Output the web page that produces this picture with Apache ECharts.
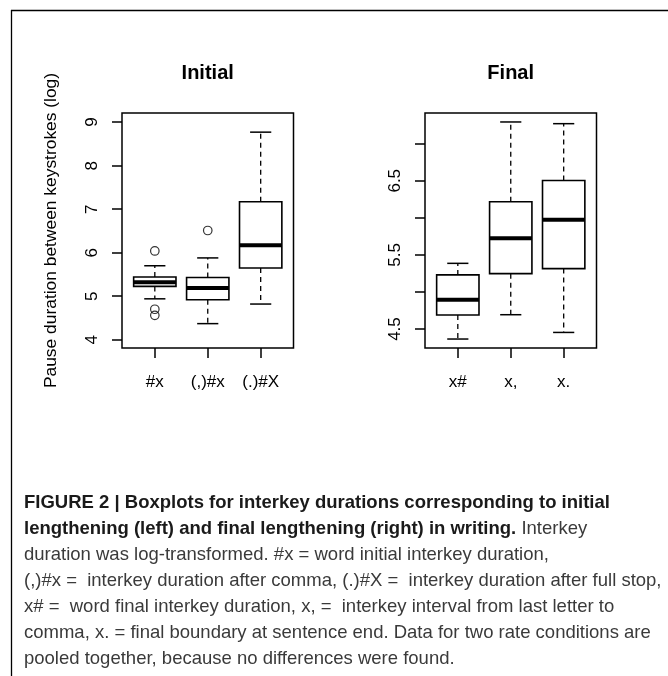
<!DOCTYPE html>
<html>
<head>
<meta charset="utf-8">
<script src="https://cdn.jsdelivr.net/npm/echarts@6/dist/echarts.min.js"></script>
<style>
html,body{margin:0;padding:0;background:#fff;}
#chart{width:668px;height:676px;}
</style>
</head>
<body>
<div id="chart"></div>
<script>
// ---- Data ----
const initialCats = ['#x', '(,)#x', '(.)#X'];
const initialLow  = [4.94, 4.37, 4.82];
const initialQ1   = [5.225, 4.92, 5.65];
const initialMed  = [5.32, 5.19, 6.17];
const initialQ3   = [5.44, 5.43, 7.17];
const initialHigh = [5.70, 5.88, 8.77];
const initialOutliers = [[1, 6.04], [1, 4.70], [1, 4.56], [2, 6.51]];

const finalCats = ['x#', 'x,', 'x.'];
const finalLow  = [4.365, 4.693, 4.454];
const finalQ1   = [4.69, 5.247, 5.315];
const finalMed  = [4.895, 5.724, 5.973];
const finalQ3   = [5.23, 6.216, 6.504];
const finalHigh = [5.386, 7.293, 7.27];

const initialTicks = [4, 5, 6, 7, 8, 9];
const initialTickLabels = [4, 5, 6, 7, 8, 9];
const finalTicks = [4.5, 5, 5.5, 6, 6.5, 7];
const finalTickLabels = [4.5, 5.5, 6.5];

const yAxisTitle = 'Pause duration between keystrokes (log)';
const panelTitles = ['Initial', 'Final'];

const captionLines = [
  '{b|FIGURE 2 | Boxplots for interkey durations corresponding to initial}',
  '{b|lengthening (left) and final lengthening (right) in writing.}{r| Interkey}',
  '{r|duration was log-transformed. #x = word initial interkey duration,}',
  '{r|(,)#x =  interkey duration after comma, (.)#X =  interkey duration after full stop,}',
  '{r|x# =  word final interkey duration, x, =  interkey interval from last letter to}',
  '{r|comma, x. = final boundary at sentence end. Data for two rate conditions are}',
  '{r|pooled together, because no differences were found.}'
];

// ---- Build ----
const FONT = '"Liberation Sans", Arial, sans-serif';
function boxData(low, q1, med, q3, high) {
  return low.map((v, i) => [i + 1, low[i], q1[i], med[i], q3[i], high[i]]);
}

function renderBox(params, api) {
  const x = api.value(0);
  const lo = api.value(1), q1 = api.value(2), md = api.value(3), q3 = api.value(4), hi = api.value(5);
  const half = 0.4, cap = 0.2;
  const pc = (v) => api.coord([x, v]);
  const cx = pc(md)[0];
  const xl = api.coord([x - half, md])[0];
  const xr = api.coord([x + half, md])[0];
  const cl = api.coord([x - cap, md])[0];
  const cr = api.coord([x + cap, md])[0];
  const yLo = pc(lo)[1], yQ1 = pc(q1)[1], yMd = pc(md)[1], yQ3 = pc(q3)[1], yHi = pc(hi)[1];
  const dash = { stroke: '#000', lineWidth: 1.3, lineDash: [5, 4] };
  const solid = { stroke: '#000', lineWidth: 1.5 };
  return {
    type: 'group',
    children: [
      { type: 'line', shape: { x1: cx, y1: yQ3, x2: cx, y2: yHi }, style: dash },
      { type: 'line', shape: { x1: cx, y1: yQ1, x2: cx, y2: yLo }, style: dash },
      { type: 'line', shape: { x1: cl, y1: yHi, x2: cr, y2: yHi }, style: solid },
      { type: 'line', shape: { x1: cl, y1: yLo, x2: cr, y2: yLo }, style: solid },
      { type: 'rect', shape: { x: xl, y: yQ3, width: xr - xl, height: yQ1 - yQ3 },
        style: { fill: '#fff', stroke: '#000', lineWidth: 1.6 } },
      { type: 'line', shape: { x1: xl, y1: yMd, x2: xr, y2: yMd }, style: { stroke: '#000', lineWidth: 4 } }
    ]
  };
}

const grids = [
  { left: 122, top: 113, width: 171.5, height: 235 },
  { left: 425, top: 113, width: 171.5, height: 235 }
];

function xAxisFor(idx, cats) {
  return {
    type: 'value', gridIndex: idx, min: 0.38, max: 3.62,
    axisLine: { show: false }, splitLine: { show: false },
    axisTick: { show: true, customValues: [1, 2, 3], length: 10, lineStyle: { color: '#000', width: 1.5 } },
    axisLabel: { customValues: [1, 2, 3], formatter: (v) => cats[Math.round(v) - 1],
      margin: 26, fontSize: 17, color: '#000', fontFamily: FONT }
  };
}
function yAxisFor(idx, min, max, ticks, labels, name) {
  const ax = {
    type: 'value', gridIndex: idx, min: min, max: max,
    axisLine: { show: false }, splitLine: { show: false },
    axisTick: { show: true, customValues: ticks, length: 10, lineStyle: { color: '#000', width: 1.5 } },
    axisLabel: { customValues: labels, rotate: 90, margin: 21, fontSize: 17, color: '#000', fontFamily: FONT,
      formatter: (v) => String(v) }
  };
  if (name) {
    ax.name = name; ax.nameLocation = 'middle'; ax.nameGap = 62;
    ax.nameTextStyle = { fontSize: 17.4, color: '#000', fontFamily: FONT };
  }
  return ax;
}

const chart = echarts.init(document.getElementById('chart'), null, { renderer: 'canvas' });
chart.setOption({
  backgroundColor: '#fff',
  animation: false,
  title: [
    { text: panelTitles[0], left: 207.7, top: 63, textAlign: 'center', padding: 0,
      textStyle: { fontSize: 20, fontWeight: 'bold', color: '#000', fontFamily: FONT } },
    { text: panelTitles[1], left: 510.7, top: 63, textAlign: 'center', padding: 0,
      textStyle: { fontSize: 20, fontWeight: 'bold', color: '#000', fontFamily: FONT } }
  ],
  grid: grids.map(g => Object.assign({ show: true, borderColor: '#000', borderWidth: 1.5, backgroundColor: 'transparent' }, g)),
  xAxis: [xAxisFor(0, initialCats), xAxisFor(1, finalCats)],
  yAxis: [
    yAxisFor(0, 3.81, 9.21, initialTicks, initialTickLabels, yAxisTitle),
    yAxisFor(1, 4.244, 7.414, finalTicks, finalTickLabels, null)
  ],
  series: [
    { type: 'custom', xAxisIndex: 0, yAxisIndex: 0, renderItem: renderBox,
      encode: { x: 0, y: [1, 2, 3, 4, 5] },
      data: boxData(initialLow, initialQ1, initialMed, initialQ3, initialHigh), z: 3 },
    { type: 'custom', xAxisIndex: 1, yAxisIndex: 1, renderItem: renderBox,
      encode: { x: 0, y: [1, 2, 3, 4, 5] },
      data: boxData(finalLow, finalQ1, finalMed, finalQ3, finalHigh), z: 3 },
    { type: 'scatter', xAxisIndex: 0, yAxisIndex: 0, data: initialOutliers,
      symbol: 'circle', symbolSize: 8.5, z: 4,
      itemStyle: { color: 'rgba(255,255,255,0)', borderColor: '#000', borderWidth: 1.2 } }
  ],
  graphic: [
    { type: 'line', shape: { x1: 11, y1: 10.5, x2: 668, y2: 10.5 }, style: { stroke: '#000', lineWidth: 1.3 } },
    { type: 'line', shape: { x1: 11.5, y1: 10, x2: 11.5, y2: 676 }, style: { stroke: '#000', lineWidth: 1.3 } }
  ].concat(captionLines.map((t, i) => ({
    type: 'text', x: 24, y: 503 + i * 26,
    style: {
      text: t, verticalAlign: 'middle', align: 'left',
      rich: {
        b: { fontSize: 18.5, fontWeight: 'bold', fill: '#1a1a1a', fontFamily: FONT },
        r: { fontSize: 18.5, fill: '#3a3a3a', fontFamily: FONT }
      }
    }
  })))
});
</script>
</body>
</html>
